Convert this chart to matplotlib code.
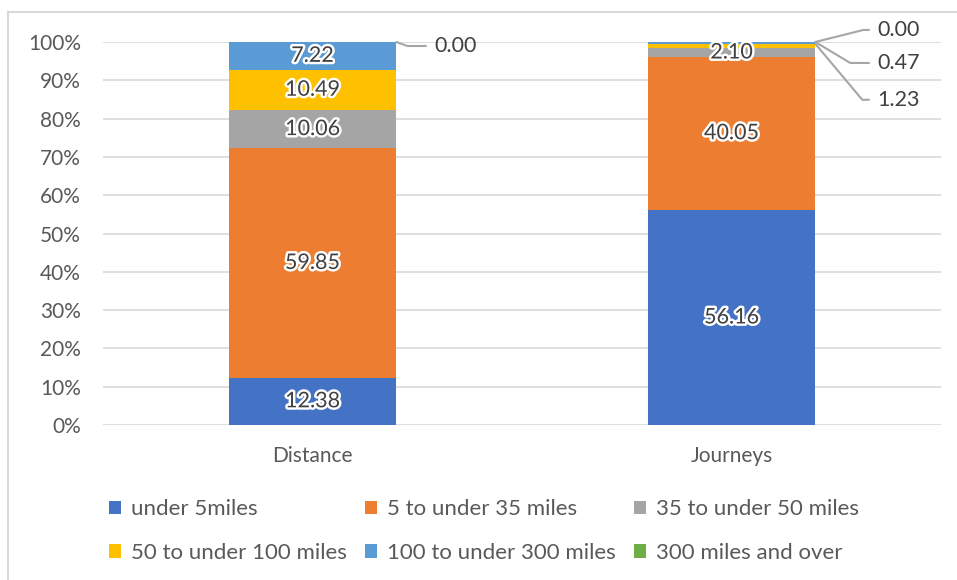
import numpy as np
import matplotlib
matplotlib.use("Agg")
import matplotlib.pyplot as plt
import matplotlib.patheffects as pe
from matplotlib.lines import Line2D

plt.rcParams['font.family'] = ['Lato', 'DejaVu Sans']

categories = ['Distance', 'Journeys']
series = ['under 5miles', '5 to under 35 miles', '35 to under 50 miles',
          '50 to under 100 miles', '100 to under 300 miles', '300 miles and over']
values = {
    'under 5miles': [12.38, 56.16],
    '5 to under 35 miles': [59.85, 40.05],
    '35 to under 50 miles': [10.06, 2.10],
    '50 to under 100 miles': [10.49, 1.23],
    '100 to under 300 miles': [7.22, 0.47],
    '300 miles and over': [0.00, 0.00],
}
colors = ['#4472C4', '#ED7D31', '#A5A5A5', '#FFC000', '#5B9BD5', '#70AD47']

# labels that Excel pushed outside the bar: (series, category) -> offset in px, leader angle
outside = {
    ('300 miles and over', 0): (38, -4, -20),
    ('300 miles and over', 1): (62, 12, 14),
    ('100 to under 300 miles', 1): (62, -21, -31),
    ('50 to under 100 miles', 1): (62, -56, -50),
}

txt = '#404040'
grid = '#D9D9D9'
fs = 15.5

fig = plt.figure(figsize=(9.57, 5.8), dpi=100)
ax = fig.add_axes([103/957, 1-425/580, (941-103)/957, (425-42)/580])

x = np.arange(len(categories))
width = 0.4
bottom = np.zeros(len(categories))
handles = []
for s, c in zip(series, colors):
    v = np.array(values[s]) / 100.0
    b = ax.bar(x, v, width, bottom=bottom, color=c, label=s, zorder=2)
    handles.append(b)
    for i in range(len(categories)):
        if (s, i) in outside:
            dx, dy, ang = outside[(s, i)]
            ax.annotate(f'{values[s][i]:.2f}', xy=(x[i] + width/2, bottom[i] + v[i]),
                        xytext=(dx, dy), textcoords='offset pixels',
                        ha='left', va='center', fontsize=fs, color=txt,
                        arrowprops=dict(arrowstyle='-', color='#A6A6A6', lw=1.5,
                                        shrinkA=4, shrinkB=0,
                                        connectionstyle=f'angle,angleA=0,angleB={ang},rad=0'))
        elif v[i] > 0:
            ax.text(x[i], bottom[i] + v[i]/2, f'{values[s][i]:.2f}', ha='center', va='center',
                    fontsize=fs, color=txt, zorder=3,
                    path_effects=[pe.withStroke(linewidth=3.5, foreground='white')])
    bottom += v

ax.set_xlim(-0.5, 1.5)
ax.set_ylim(0, 1)
ax.set_yticks(np.arange(0, 1.01, 0.1))
ax.set_yticklabels([f'{int(round(t*100))}%' for t in np.arange(0, 1.01, 0.1)])
ax.set_xticks(x)
ax.set_xticklabels(categories)
ax.tick_params(axis='both', length=0, labelsize=15, colors='#595959')
ax.tick_params(axis='y', pad=16)
ax.tick_params(axis='x', pad=15)
ax.yaxis.grid(True, color=grid, lw=1.2, zorder=0)
for sp in ax.spines.values():
    sp.set_visible(False)

# matplotlib fills legend columns first; reorder so rows read like Excel
order = [0, 3, 1, 4, 2, 5]
fig.legend(handles=[handles[k] for k in order], labels=[series[k] for k in order],
           ncol=3, loc='center',
           bbox_to_anchor=(484/957, 1-531/580), frameon=False, fontsize=16,
           handlelength=0.55, handleheight=0.55, handletextpad=0.45,
           columnspacing=0.8, labelspacing=1.05, labelcolor='#595959')

# chart area border (only left and top visible in the crop)
fig.add_artist(Line2D([8/957, 8/957], [0, 1-12/580], color=grid, lw=1.5))
fig.add_artist(Line2D([8/957, 1], [1-12/580, 1-12/580], color=grid, lw=1.5))

fig.savefig('out.png', dpi=100)
